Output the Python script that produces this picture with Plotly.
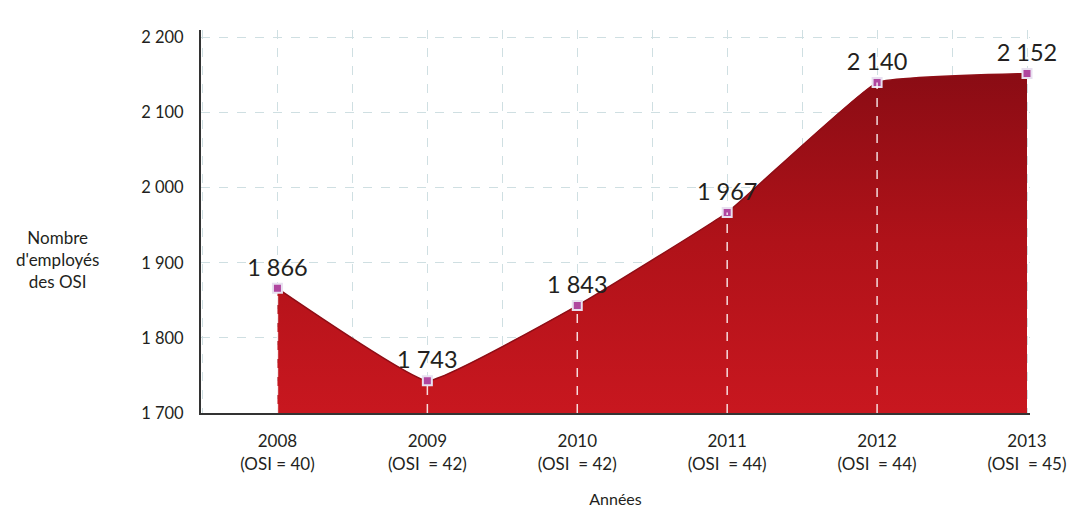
import plotly.graph_objects as go

years = [2008, 2009, 2010, 2011, 2012, 2013]
osi_counts = [40, 42, 42, 44, 44, 45]
employees = [1866, 1743, 1843, 1967, 2140, 2152]
value_labels = ["1 866", "1 743", "1 843", "1 967", "2 140", "2 152"]
y_ticks = [1700, 1800, 1900, 2000, 2100, 2200]
y_tick_labels = ["1 700", "1 800", "1 900", "2 000", "2 100", "2 200"]
x_tick_labels = ["2008<br>(OSI = 40)", "2009<br>(OSI\u00a0 = 42)", "2010<br>(OSI\u00a0 = 42)",
                 "2011<br>(OSI\u00a0 = 44)", "2012<br>(OSI\u00a0 = 44)", "2013<br>(OSI\u00a0 = 45)"]
base_value = 1700

FONT = "Lato, 'Open Sans', sans-serif"
TEXT = "#231f20"

W, H = 1076, 509
ML, MR, MT, MB = 201, 46, 30, 96

fig = go.Figure()

# baseline for the area
fig.add_trace(go.Scatter(x=years, y=[base_value] * len(years), mode="lines",
                         line=dict(width=0), hoverinfo="skip", showlegend=False))

fig.add_trace(go.Scatter(
    x=years, y=employees, mode="lines", fill="tonexty",
    line=dict(color="#8f0e16", width=1.5, shape="spline", smoothing=0.3),
    fillgradient=dict(type="vertical",
                      colorscale=[[0, "#c8171f"], [0.5, "#b01219"], [1, "#8a0c14"]]),
    hoverinfo="skip", showlegend=False))

# white dashed drop lines
for yr, val in zip(years[:-1], employees[:-1]):
    fig.add_shape(type="line", x0=yr, x1=yr, y0=base_value, y1=val, xref="x", yref="y",
                  line=dict(color="rgba(255,255,255,0.85)", width=1.5, dash="dash"), layer="above")

fig.add_trace(go.Scatter(
    x=years, y=employees, mode="markers+text",
    marker=dict(symbol="square", size=9, color="#b0469f",
                line=dict(color="#e8e0f0", width=2)),
    text=value_labels, textposition="top center",
    textfont=dict(family=FONT, size=23.5, color=TEXT),
    cliponaxis=False, hoverinfo="skip", showlegend=False))

plot_w = W - ML - MR
plot_h = H - MT - MB

fig.update_layout(
    width=W, height=H,
    margin=dict(l=ML, r=MR, t=MT, b=MB, autoexpand=False),
    paper_bgcolor="white", plot_bgcolor="white",
    font=dict(family=FONT, color=TEXT, size=16),
    xaxis=dict(range=[2007.49, 2013.02], tickvals=years, ticktext=x_tick_labels,
               showgrid=False, zeroline=False, showline=True, linecolor="#333", linewidth=2,
               ticks="", ticklabelstandoff=12, tickfont=dict(size=17, family=FONT, color=TEXT),
               minor=dict(dtick=0.5, tick0=2008, showgrid=True, gridcolor="#cfdfe2",
                          griddash="dash", gridwidth=1),
               title=dict(text="Années", font=dict(size=16, family=FONT, color=TEXT), standoff=21)),
    yaxis=dict(range=[1700, 2210], tickvals=y_ticks, ticktext=y_tick_labels,
               showgrid=True, gridcolor="#cfdfe2", griddash="dash", gridwidth=1,
               zeroline=False, showline=True, linecolor="#333", linewidth=2,
               ticks="", ticklabelstandoff=12, tickfont=dict(size=16.5, family=FONT, color=TEXT)),
    annotations=[dict(text="Nombre<br>d'employés<br>des OSI",
                      x=(57 - ML) / plot_w, y=1 - (259 - MT) / plot_h,
                      xref="paper", yref="paper", xanchor="center", yanchor="middle",
                      showarrow=False, font=dict(size=17, family=FONT, color=TEXT), align="center")],
)

fig.write_html("out.html", config={"displayModeBar": False},
               post_script="document.body.style.margin='0';document.body.style.overflow='hidden';")
